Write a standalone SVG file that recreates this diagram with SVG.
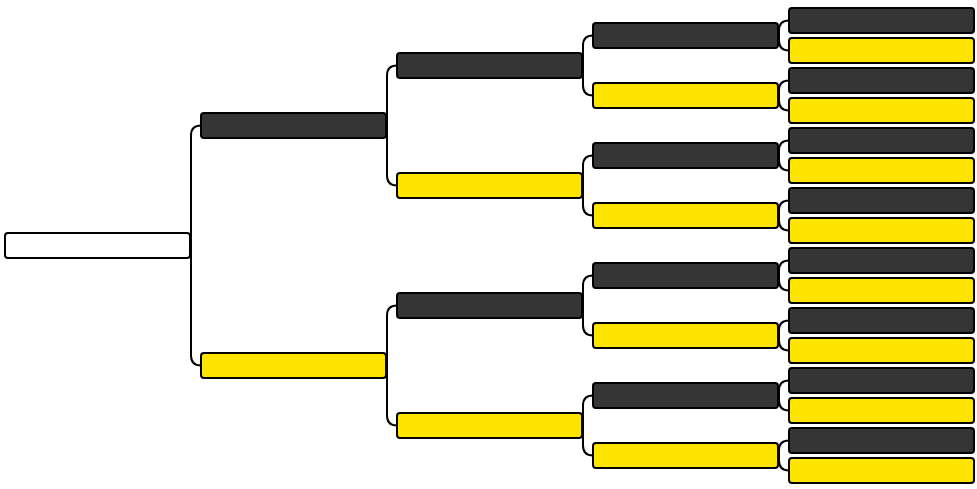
<svg xmlns="http://www.w3.org/2000/svg" width="977" height="489" viewBox="0 0 977 489">
<style>
.n rect{stroke:#000;stroke-width:2;width:185px;height:25px}
.d rect{fill:#353535}
.y rect{fill:#FFE400}
.w rect{fill:#fff}
.c path{fill:none;stroke:#000;stroke-width:2}
</style>
<g class="c" id="connectors">
<path d="M201 125.5Q191 125.5 191 135.5L191 355.5Q191 365.5 201 365.5"/>
<path d="M397 65.5Q387 65.5 387 75.5L387 175.5Q387 185.5 397 185.5"/>
<path d="M397 305.5Q387 305.5 387 315.5L387 415.5Q387 425.5 397 425.5"/>
<path d="M593 35.5Q583 35.5 583 45.5L583 85.5Q583 95.5 593 95.5"/>
<path d="M593 155.5Q583 155.5 583 165.5L583 205.5Q583 215.5 593 215.5"/>
<path d="M593 275.5Q583 275.5 583 285.5L583 325.5Q583 335.5 593 335.5"/>
<path d="M593 395.5Q583 395.5 583 405.5L583 445.5Q583 455.5 593 455.5"/>
<path d="M789 20.5Q779 20.5 779 30.5L779 40.5Q779 50.5 789 50.5"/>
<path d="M789 80.5Q779 80.5 779 90.5L779 100.5Q779 110.5 789 110.5"/>
<path d="M789 140.5Q779 140.5 779 150.5L779 160.5Q779 170.5 789 170.5"/>
<path d="M789 200.5Q779 200.5 779 210.5L779 220.5Q779 230.5 789 230.5"/>
<path d="M789 260.5Q779 260.5 779 270.5L779 280.5Q779 290.5 789 290.5"/>
<path d="M789 320.5Q779 320.5 779 330.5L779 340.5Q779 350.5 789 350.5"/>
<path d="M789 380.5Q779 380.5 779 390.5L779 400.5Q779 410.5 789 410.5"/>
<path d="M789 440.5Q779 440.5 779 450.5L779 460.5Q779 470.5 789 470.5"/>
</g>
<g id="root" class="n w"><rect x="5" y="233" rx="3"/></g>
<g id="n1" class="n d"><rect x="201" y="113" rx="3"/></g>
<g id="n2" class="n y"><rect x="201" y="353" rx="3"/></g>
<g id="n11" class="n d"><rect x="397" y="53" rx="3"/></g>
<g id="n12" class="n y"><rect x="397" y="173" rx="3"/></g>
<g id="n21" class="n d"><rect x="397" y="293" rx="3"/></g>
<g id="n22" class="n y"><rect x="397" y="413" rx="3"/></g>
<g id="n111" class="n d"><rect x="593" y="23" rx="3"/></g>
<g id="n112" class="n y"><rect x="593" y="83" rx="3"/></g>
<g id="n121" class="n d"><rect x="593" y="143" rx="3"/></g>
<g id="n122" class="n y"><rect x="593" y="203" rx="3"/></g>
<g id="n211" class="n d"><rect x="593" y="263" rx="3"/></g>
<g id="n212" class="n y"><rect x="593" y="323" rx="3"/></g>
<g id="n221" class="n d"><rect x="593" y="383" rx="3"/></g>
<g id="n222" class="n y"><rect x="593" y="443" rx="3"/></g>
<g id="l1" class="n d"><rect x="789" y="8" rx="3"/></g>
<g id="l2" class="n y"><rect x="789" y="38" rx="3"/></g>
<g id="l3" class="n d"><rect x="789" y="68" rx="3"/></g>
<g id="l4" class="n y"><rect x="789" y="98" rx="3"/></g>
<g id="l5" class="n d"><rect x="789" y="128" rx="3"/></g>
<g id="l6" class="n y"><rect x="789" y="158" rx="3"/></g>
<g id="l7" class="n d"><rect x="789" y="188" rx="3"/></g>
<g id="l8" class="n y"><rect x="789" y="218" rx="3"/></g>
<g id="l9" class="n d"><rect x="789" y="248" rx="3"/></g>
<g id="l10" class="n y"><rect x="789" y="278" rx="3"/></g>
<g id="l11" class="n d"><rect x="789" y="308" rx="3"/></g>
<g id="l12" class="n y"><rect x="789" y="338" rx="3"/></g>
<g id="l13" class="n d"><rect x="789" y="368" rx="3"/></g>
<g id="l14" class="n y"><rect x="789" y="398" rx="3"/></g>
<g id="l15" class="n d"><rect x="789" y="428" rx="3"/></g>
<g id="l16" class="n y"><rect x="789" y="458" rx="3"/></g>
</svg>
